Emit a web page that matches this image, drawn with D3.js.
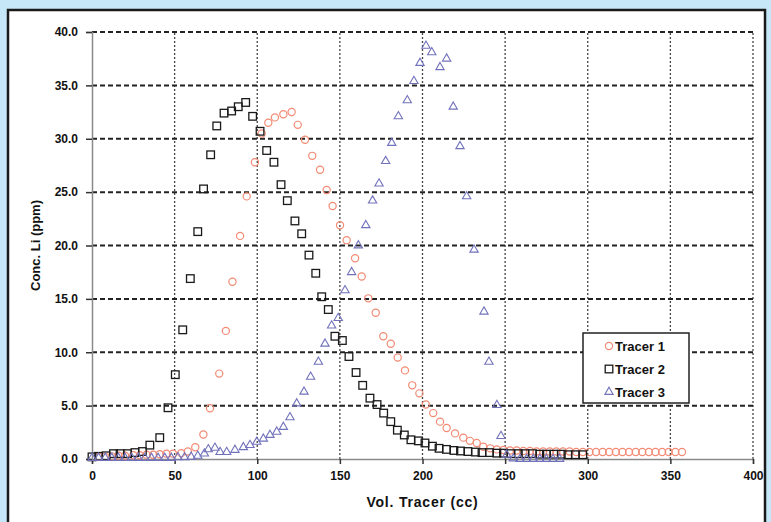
<!DOCTYPE html>
<html>
<head>
<meta charset="utf-8">
<script src="https://cdnjs.cloudflare.com/ajax/libs/d3/7.8.5/d3.min.js"></script>
<style>
  body { margin: 0; background: #c6e7f7; }
  text { font-family: "Liberation Sans", Arial, sans-serif; font-weight: bold; fill: #111; }
</style>
</head>
<body>
<div id="chart"></div>
<script>
// Tracer 1 (circles)
var t1x = [4, 8, 12, 16, 20, 25, 29, 33, 37, 41, 45, 49, 54, 58, 62.5, 67.4, 71.4, 77, 81, 85, 89.6, 93.6, 98.6, 102.7, 106.7, 110.7, 115.8, 120.8, 124.5, 128.9, 133.3, 138, 142, 145.6, 150.1, 154.1, 159.2, 163.2, 167.2, 171.7, 176.3, 180.8, 185, 189.4, 193.8, 198.1, 202, 206.5, 210.6, 214.6, 219.7, 224.7, 228.7, 232.8, 236.8, 241, 245, 249, 253, 257, 261, 265, 269, 273, 277, 281, 285, 289, 293, 297, 301, 305, 309, 313, 317, 321, 325, 329, 333, 337, 341, 345, 349, 353, 357],
    t1y = [0.2, 0.2, 0.25, 0.3, 0.3, 0.35, 0.35, 0.4, 0.4, 0.45, 0.5, 0.5, 0.55, 0.7, 1.1, 2.3, 4.75, 8.0, 12.0, 16.6, 20.9, 24.6, 27.8, 30.5, 31.5, 32.0, 32.3, 32.5, 31.3, 29.9, 28.4, 27.1, 25.2, 23.7, 21.9, 20.5, 18.8, 17.1, 15.05, 13.7, 11.5, 10.8, 9.5, 8.3, 6.9, 6.15, 5.1, 4.3, 3.5, 2.9, 2.4, 2.0, 1.7, 1.5, 1.15, 1.0, 0.9, 0.85, 0.8, 0.8, 0.75, 0.75, 0.7, 0.7, 0.7, 0.7, 0.7, 0.7, 0.65, 0.65, 0.65, 0.65, 0.65, 0.65, 0.65, 0.65, 0.65, 0.65, 0.65, 0.65, 0.65, 0.65, 0.65, 0.65, 0.65];

// Tracer 2 (squares)
var t2x = [0, 4, 8.5, 13, 17, 21.5, 26, 30.5, 35, 41, 46, 50.4, 54.9, 59.5, 64, 67.5, 71.8, 75.5, 79.9, 84.5, 88.5, 93, 97.2, 101.7, 105.7, 110.1, 114.4, 118.2, 122.8, 126.9, 131.3, 135.4, 139, 143, 147, 151.5, 155.5, 159.8, 163.8, 168.2, 172.5, 176.5, 180.8, 184.8, 189, 193, 197.5, 201.5, 206, 210, 214.5, 219, 223, 227.5, 232, 236, 240.5, 245, 249, 253.5, 258, 262, 266.5, 271, 275, 279.5, 284, 288, 292.5, 297],
    t2y = [0.2, 0.25, 0.3, 0.5, 0.5, 0.5, 0.6, 0.7, 1.3, 2.0, 4.8, 7.9, 12.1, 16.9, 21.3, 25.3, 28.5, 31.2, 32.4, 32.6, 33.0, 33.4, 32.1, 30.7, 28.9, 27.8, 25.7, 24.2, 22.3, 21.1, 19.1, 17.4, 15.2, 14.0, 11.5, 11.1, 9.6, 8.1, 6.9, 5.7, 5.1, 4.3, 3.5, 2.7, 2.25, 1.8, 1.7, 1.5, 1.2, 1.0, 0.9, 0.8, 0.75, 0.7, 0.65, 0.6, 0.6, 0.55, 0.55, 0.5, 0.5, 0.5, 0.5, 0.45, 0.45, 0.45, 0.45, 0.4, 0.4, 0.4];

// Tracer 3 (triangles)
var t3x = [0, 4, 8, 12, 16, 20, 24, 28, 32, 36, 40, 44, 48, 52, 56, 60, 64, 68, 70.4, 74.4, 77.5, 81.5, 86.5, 91.6, 95.6, 99.7, 103.7, 107.7, 111.8, 115.8, 119.8, 123.9, 128.3, 132.3, 137, 141, 145, 149, 153.1, 157.1, 161.2, 165.7, 169.8, 173.7, 177.7, 181.4, 185.4, 190.8, 194.8, 198.5, 202.1, 205.6, 210.6, 214.6, 218.6, 222.7, 226.7, 231.2, 237.2, 240.2, 245, 247.5, 251, 255, 259, 263, 267, 271, 275, 279, 283],
    t3y = [0.1, 0.1, 0.1, 0.1, 0.1, 0.1, 0.1, 0.1, 0.1, 0.1, 0.1, 0.1, 0.1, 0.15, 0.15, 0.2, 0.3, 0.5, 0.9, 1.05, 0.65, 0.65, 0.85, 1.1, 1.3, 1.6, 1.9, 2.25, 2.55, 3.0, 3.9, 5.2, 6.3, 7.7, 9.1, 10.8, 12.5, 13.2, 15.8, 17.5, 20.0, 21.9, 24.2, 25.8, 27.9, 29.6, 32.1, 33.6, 35.4, 37.1, 38.7, 38.1, 36.7, 37.5, 33.0, 29.3, 24.6, 19.6, 13.8, 9.1, 5.05, 2.15, 0.4, 0.05, 0.0, 0.0, 0.0, 0.0, 0.0, 0.0, 0.0];

var xTicks = [0, 50, 100, 150, 200, 250, 300, 350, 400],
    yTicks = [0, 5, 10, 15, 20, 25, 30, 35, 40],
    seriesNames = ["Tracer 1", "Tracer 2", "Tracer 3"];

var width = 771, height = 522,
    margin = { top: 32, left: 92, right: 18, bottom: 63 };

var svg = d3.select("#chart")
    .append("svg")
    .attr("width", width)
    .attr("height", height);

// white panel
svg.append("rect")
    .attr("x", 8).attr("y", 10)
    .attr("width", 757).attr("height", 530)
    .attr("fill", "#fff")
    .attr("stroke", "#1a1a1a")
    .attr("stroke-width", 2.5);

var xScale = d3.scaleLinear().domain([0, 400]).range([margin.left, width - margin.right]);
var yScale = d3.scaleLinear().domain([0, 40]).range([height - margin.bottom, margin.top]);

// vertical gridlines
svg.append("g")
    .selectAll("line")
    .data(xTicks.slice(1))
    .join("line")
    .attr("x1", d => xScale(d)).attr("x2", d => xScale(d))
    .attr("y1", yScale(0)).attr("y2", yScale(40))
    .attr("stroke", "#444")
    .attr("stroke-width", 1.3)
    .attr("stroke-dasharray", "2,2");

// horizontal gridlines
svg.append("g")
    .selectAll("line")
    .data(yTicks.slice(1))
    .join("line")
    .attr("x1", xScale(0)).attr("x2", xScale(400))
    .attr("y1", d => yScale(d)).attr("y2", d => yScale(d))
    .attr("stroke", "#222")
    .attr("stroke-width", 2)
    .attr("stroke-dasharray", "5,3");

// axes
var xAxis = svg.append("g")
    .attr("transform", "translate(0," + yScale(0) + ")")
    .call(d3.axisBottom(xScale).tickValues(xTicks).tickSize(5).tickPadding(7).tickFormat(d3.format("d")));
var yAxis = svg.append("g")
    .attr("transform", "translate(" + xScale(0) + ",0)")
    .call(d3.axisLeft(yScale).tickValues(yTicks).tickSize(6).tickPadding(8).tickFormat(d3.format(".1f")));

[xAxis, yAxis].forEach(function (a) {
    a.select(".domain").attr("stroke", "#8a8a8a").attr("stroke-width", 1.5);
    a.selectAll(".tick line").attr("stroke", "#333").attr("stroke-width", 1.5);
    a.selectAll("text")
        .attr("font-family", "Liberation Sans, Arial, sans-serif")
        .attr("font-weight", "bold")
        .attr("font-size", 12)
        .attr("fill", "#111");
});

// markers
var plot = svg.append("g");

plot.selectAll(".t1")
    .data(t1x.map((x, i) => [x, t1y[i]]))
    .join("circle")
    .attr("cx", d => xScale(d[0]))
    .attr("cy", d => yScale(d[1]))
    .attr("r", 3.6)
    .attr("fill", "none")
    .attr("stroke", "#f28a74")
    .attr("stroke-width", 1.2);

plot.selectAll(".t2")
    .data(t2x.map((x, i) => [x, t2y[i]]))
    .join("rect")
    .attr("x", d => xScale(d[0]) - 3.8)
    .attr("y", d => yScale(d[1]) - 3.8)
    .attr("width", 7.6).attr("height", 7.6)
    .attr("fill", "none")
    .attr("stroke", "#1a1a1a")
    .attr("stroke-width", 1.3);

var tri = d3.symbol().type(d3.symbolTriangle).size(30);
plot.selectAll(".t3")
    .data(t3x.map((x, i) => [x, t3y[i]]))
    .join("path")
    .attr("d", tri)
    .attr("transform", d => "translate(" + xScale(d[0]) + "," + yScale(d[1]) + ")")
    .attr("fill", "none")
    .attr("stroke", "#7272bc")
    .attr("stroke-width", 1.1);

// axis titles
svg.append("text")
    .attr("x", (xScale(0) + xScale(400)) / 2)
    .attr("y", 507)
    .attr("text-anchor", "middle")
    .attr("font-size", 14)
    .attr("letter-spacing", 0.8)
    .text("Vol. Tracer (cc)");

svg.append("text")
    .attr("transform", "translate(40," + ((yScale(0) + yScale(40)) / 2) + ") rotate(-90)")
    .attr("text-anchor", "middle")
    .attr("font-size", 13)
    .text("Conc. Li (ppm)");

// legend
var legend = svg.append("g").attr("transform", "translate(583,333)");
legend.append("rect")
    .attr("width", 106).attr("height", 70)
    .attr("fill", "#fff")
    .attr("stroke", "#222")
    .attr("stroke-width", 1.5);

var item = legend.selectAll(".item")
    .data(seriesNames)
    .join("g")
    .attr("transform", (d, i) => "translate(26," + (13 + i * 23) + ")");

item.filter((d, i) => i === 0).append("circle")
    .attr("r", 3.6).attr("fill", "none").attr("stroke", "#f28a74").attr("stroke-width", 1.2);
item.filter((d, i) => i === 1).append("rect")
    .attr("x", -3.8).attr("y", -3.8).attr("width", 7.6).attr("height", 7.6)
    .attr("fill", "none").attr("stroke", "#1a1a1a").attr("stroke-width", 1.3);
item.filter((d, i) => i === 2).append("path")
    .attr("d", tri).attr("fill", "none").attr("stroke", "#7272bc").attr("stroke-width", 1.1);

item.append("text")
    .attr("x", 6)
    .attr("dy", "0.35em")
    .attr("font-size", 13)
    .text(d => d);
</script>
</body>
</html>
